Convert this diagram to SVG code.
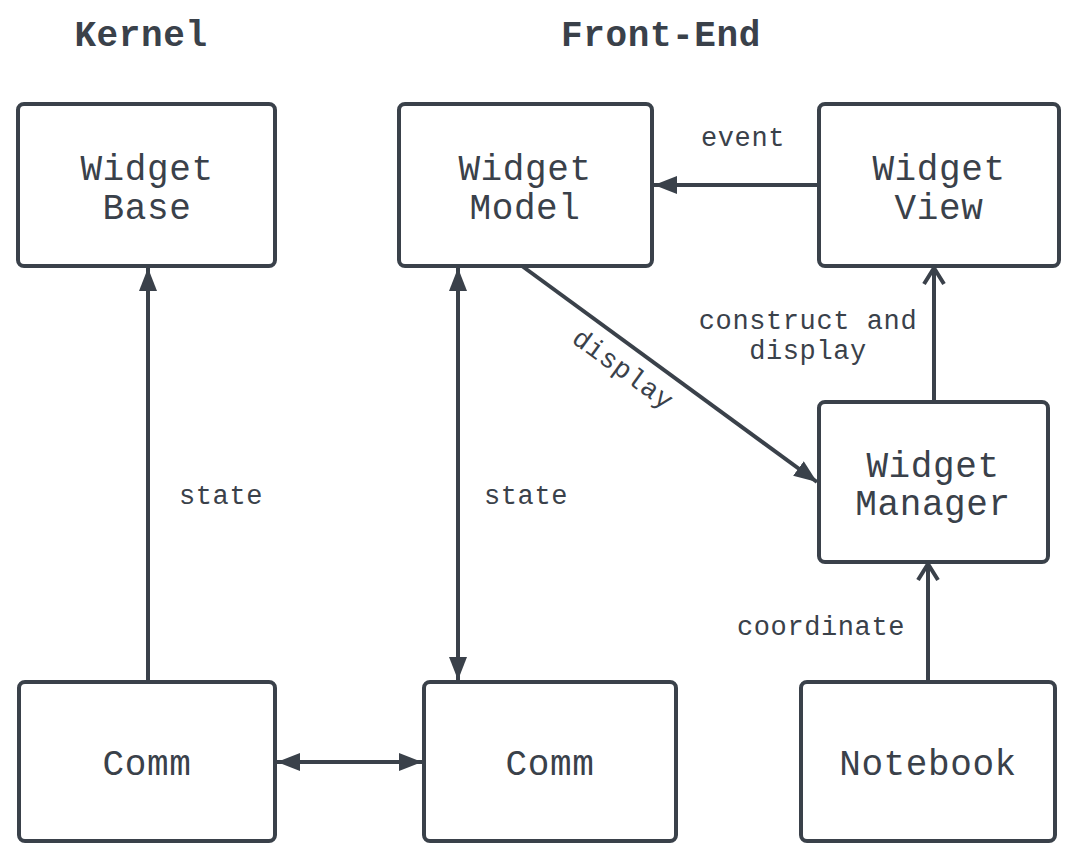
<svg xmlns="http://www.w3.org/2000/svg" width="1076" height="863" viewBox="0 0 1076 863">
<style>
.box{fill:#fff;stroke:#3a414a;stroke-width:4}
.lbl{font-family:"Liberation Mono","DejaVu Sans Mono",monospace;font-size:36px;fill:#3a414a;text-anchor:middle;letter-spacing:0.6px}
.sm{font-family:"Liberation Mono","DejaVu Sans Mono",monospace;font-size:27px;fill:#3a414a;text-anchor:middle;letter-spacing:0.6px}
.ttl{font-family:"Liberation Mono","DejaVu Sans Mono",monospace;font-size:36px;font-weight:bold;fill:#3a414a;text-anchor:middle;letter-spacing:0.6px}
.ln{stroke:#3a414a;stroke-width:4;fill:none}
</style>
<defs>
<marker id="tri" viewBox="0 0 23 18" refX="23" refY="9" markerWidth="23" markerHeight="18" markerUnits="userSpaceOnUse" orient="auto-start-reverse">
<path d="M0,0 L23,9 L0,18 z" fill="#3a414a"/>
</marker>
<marker id="chev" viewBox="0 0 20 24" refX="18" refY="12" markerWidth="20" markerHeight="24" markerUnits="userSpaceOnUse" orient="auto">
<path d="M2,2 L18,12 L2,22" fill="none" stroke="#3a414a" stroke-width="4"/>
</marker>
</defs>
<text class="ttl" x="141" y="46">Kernel</text>
<text class="ttl" x="661" y="46">Front-End</text>
<g id="connectors">
<line class="ln" x1="148" y1="682" x2="148" y2="268" marker-end="url(#tri)"/>
<line class="ln" x1="458" y1="268" x2="458" y2="680" marker-start="url(#tri)" marker-end="url(#tri)"/>
<line class="ln" x1="277" y1="762" x2="422" y2="762" marker-start="url(#tri)" marker-end="url(#tri)"/>
<line class="ln" x1="819" y1="185" x2="654" y2="185" marker-end="url(#tri)"/>
<line class="ln" x1="522" y1="266" x2="817" y2="482" marker-end="url(#tri)"/>
<line class="ln" x1="934" y1="402" x2="934" y2="268" marker-end="url(#chev)"/>
<line class="ln" x1="928" y1="682" x2="928" y2="564" marker-end="url(#chev)"/>
<text class="sm" x="743" y="146">event</text>
<text class="sm" x="221" y="504">state</text>
<text class="sm" x="526" y="504">state</text>
<text class="sm" x="808" y="329">construct and</text>
<text class="sm" x="808" y="359">display</text>
<text class="sm" x="821" y="635">coordinate</text>
<text class="sm" transform="translate(618,376) rotate(36)" x="0" y="0">display</text>
</g>
<g id="widget-base"><rect class="box" x="18" y="104" width="257" height="162" rx="6"/><text class="lbl" x="147" y="180">Widget</text><text class="lbl" x="147" y="219">Base</text></g>
<g id="widget-model"><rect class="box" x="399" y="104" width="253" height="162" rx="6"/><text class="lbl" x="525" y="180">Widget</text><text class="lbl" x="525" y="219">Model</text></g>
<g id="widget-view"><rect class="box" x="819" y="104" width="240" height="162" rx="6"/><text class="lbl" x="939" y="180">Widget</text><text class="lbl" x="939" y="219">View</text></g>
<g id="widget-manager"><rect class="box" x="819" y="402" width="229" height="160" rx="6"/><text class="lbl" x="933" y="477">Widget</text><text class="lbl" x="933" y="515">Manager</text></g>
<g id="comm-kernel"><rect class="box" x="19" y="682" width="256" height="159" rx="6"/><text class="lbl" x="147" y="775">Comm</text></g>
<g id="comm-frontend"><rect class="box" x="424" y="682" width="252" height="159" rx="6"/><text class="lbl" x="550" y="775">Comm</text></g>
<g id="notebook"><rect class="box" x="801" y="682" width="254" height="159" rx="6"/><text class="lbl" x="928" y="775">Notebook</text></g>
</svg>
